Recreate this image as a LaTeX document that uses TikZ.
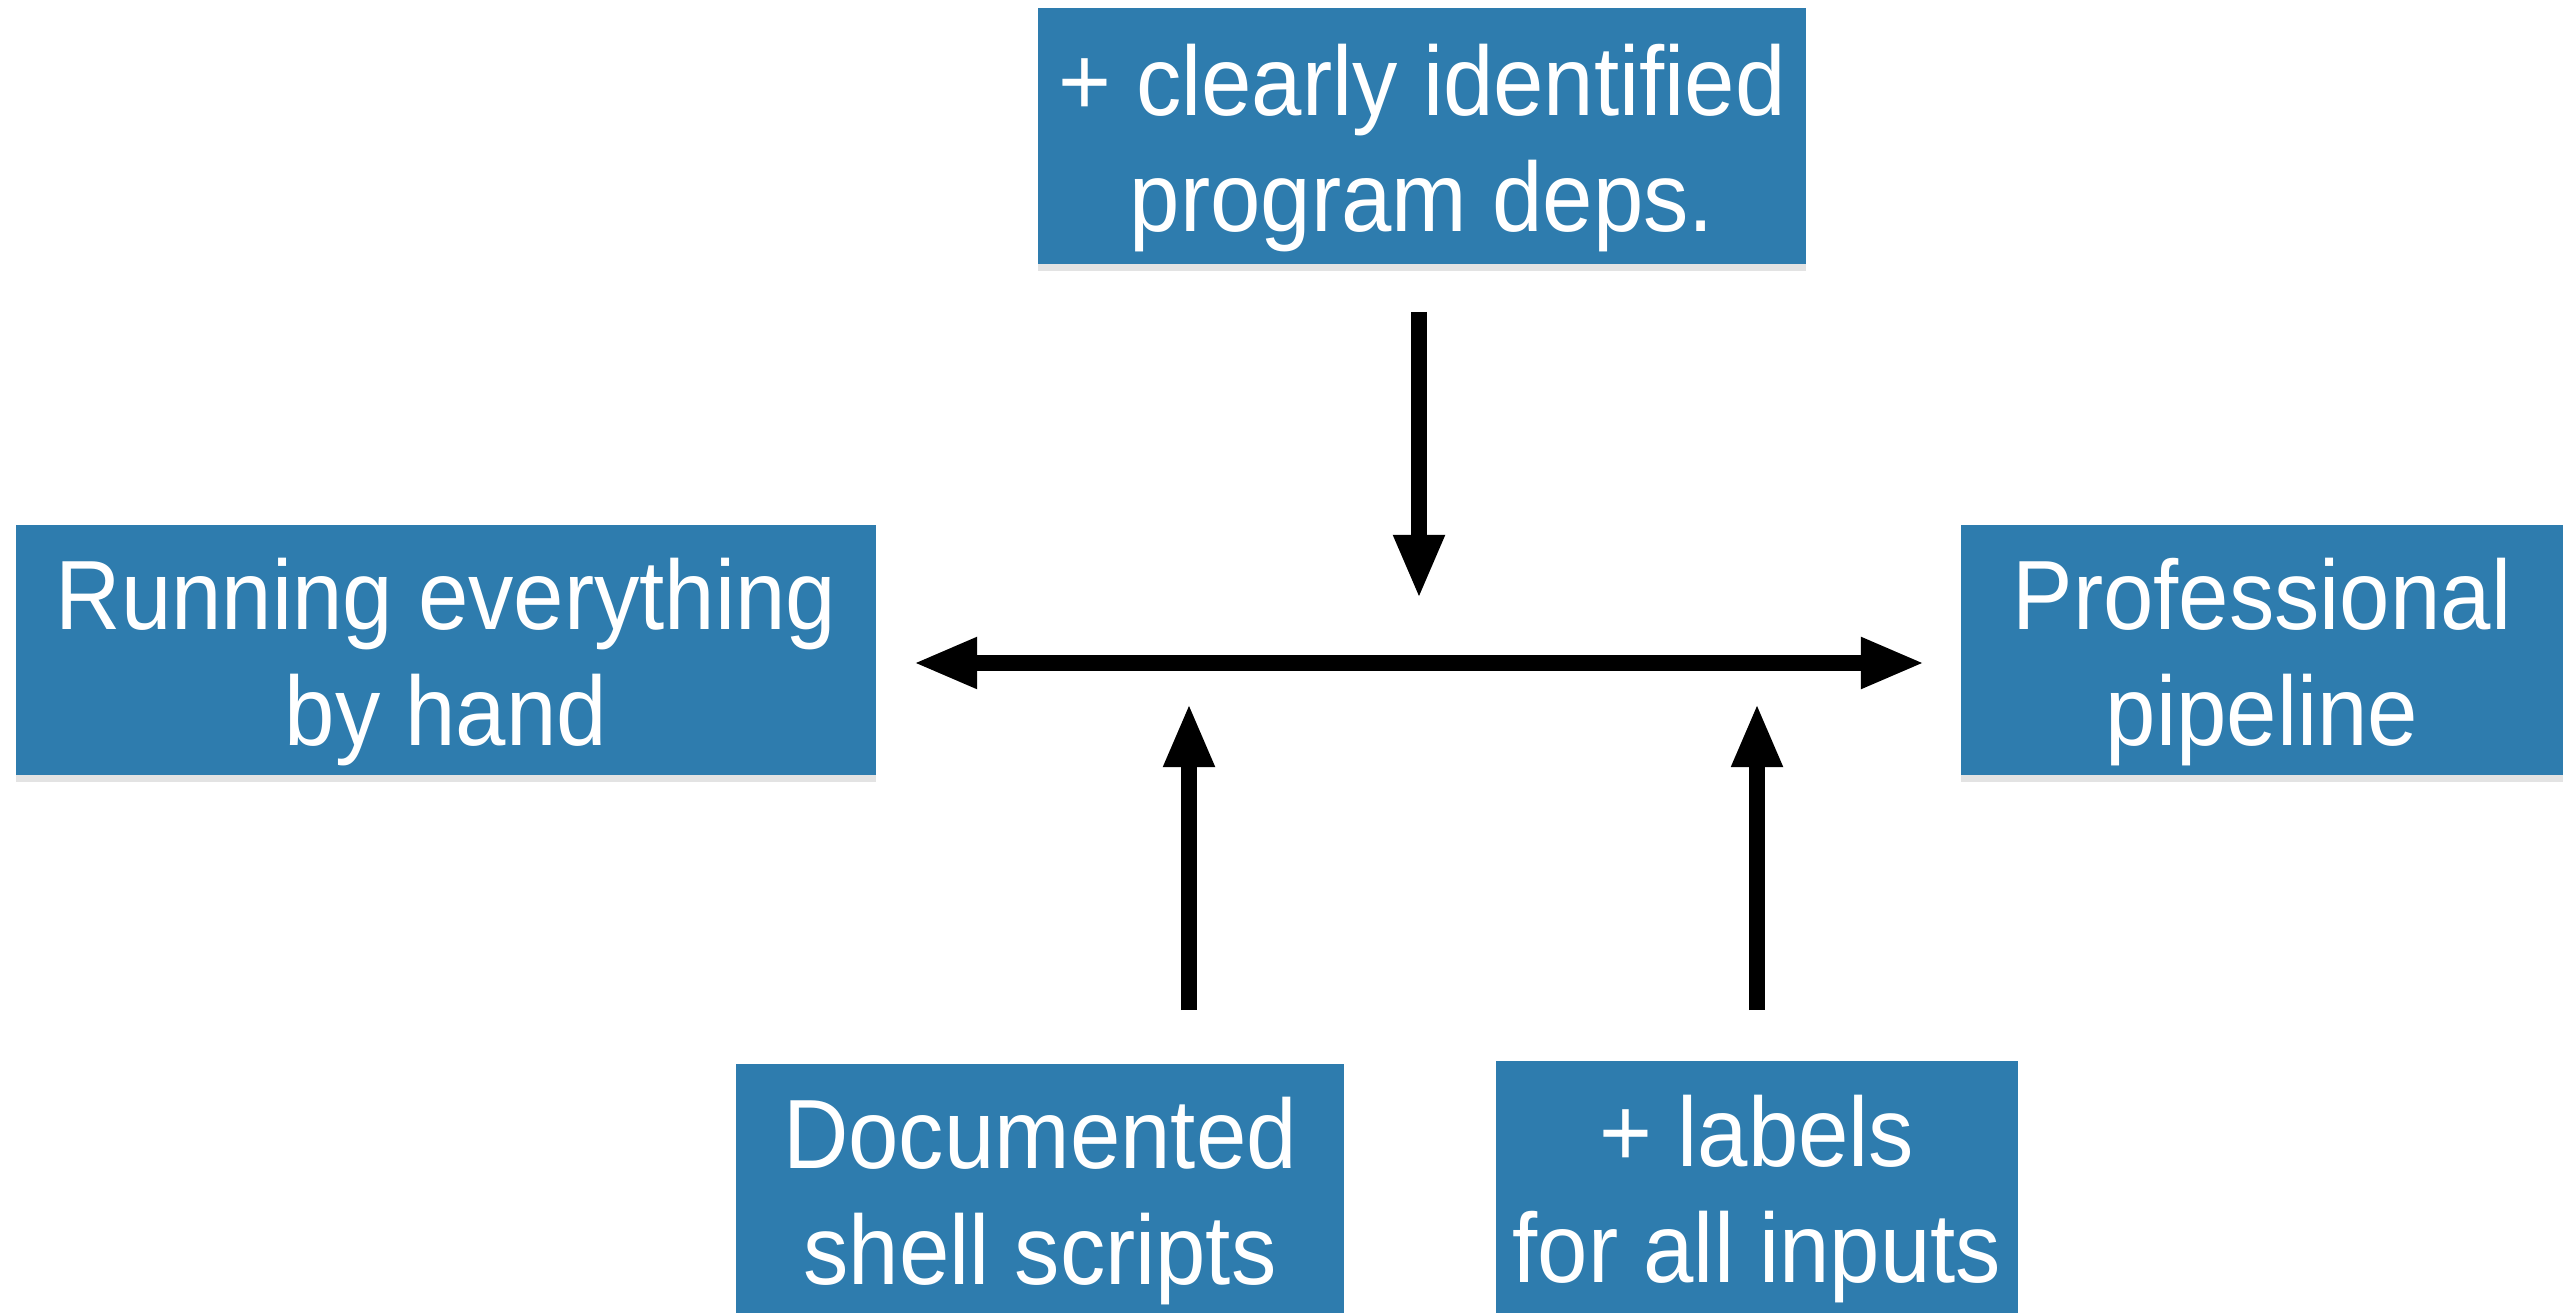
\documentclass[tikz,border=0pt]{standalone}
\usepackage{fontspec}
\setmainfont{Liberation Sans}[FakeStretch=0.92]
\usetikzlibrary{arrows.meta,shadows}
\definecolor{boxblue}{RGB}{46,124,174}
\newcommand{\cardstrut}{\rule{0pt}{0.96cm}}
\tikzset{
  card/.style={fill=boxblue, text=white, align=center, inner sep=0pt,
    font=\fontsize{28}{33}\selectfont,
    drop shadow={opacity=0.22, shadow xshift=0pt, shadow yshift=-2pt}},
  bigarrow/.style={line width=0.16cm, -{Triangle[width=0.47cm,length=0.64cm]}}
}
\begin{document}
\begin{tikzpicture}[x=0.01cm, y=-0.01cm]
		\useasboundingbox (0,0) rectangle (2575,1313);
		\node[card, minimum width=7.68cm, minimum height=2.55cm] (deps) at (1422,136) {\cardstrut+ clearly identified\\program deps.};
		\node[card, minimum width=8.59cm, minimum height=2.50cm] (hand) at (446,650) {\cardstrut Running everything\\by hand};
		\node[card, minimum width=6.01cm, minimum height=2.50cm] (pipe) at (2262,650) {\cardstrut Professional\\pipeline};
		\node[card, minimum width=6.07cm, minimum height=2.50cm] (docs) at (1040,1189) {\cardstrut Documented\\shell scripts};
		\node[card, minimum width=5.22cm, minimum height=2.52cm] (labels) at (1757,1187) {\cardstrut+ labels\\for all inputs};
		\coordinate (axisL) at (913,663);
		\coordinate (axisR) at (1925,663);
		\coordinate (depsEnd) at (1419,599);
		\coordinate (docsEnd) at (1189,703);
		\coordinate (labelsEnd) at (1757,703);
		\draw [bigarrow, {Triangle[width=0.47cm,length=0.64cm]}-{Triangle[width=0.47cm,length=0.64cm]}] (axisL) -- (axisR);
		\draw [bigarrow] (1419,312) -- (depsEnd);
		\draw [bigarrow] (1189,1010) -- (docsEnd);
		\draw [bigarrow] (1757,1010) -- (labelsEnd);
		\end{tikzpicture}
\end{document}
